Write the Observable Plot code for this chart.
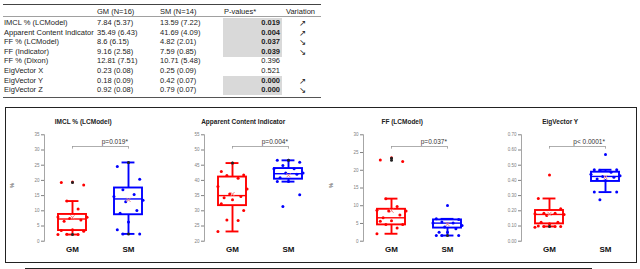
<!DOCTYPE html>
<html><head><meta charset="utf-8">
<script src="https://cdn.jsdelivr.net/npm/d3@7"></script>
<script src="https://cdn.jsdelivr.net/npm/@observablehq/plot@0.6"></script>
<style>
body{margin:0;background:#fff;}
#root{position:relative;width:640px;height:269px;overflow:hidden;font-family:"Liberation Sans",Arial,sans-serif;color:#222;}
.c{position:absolute;white-space:nowrap;font-size:7.5px;line-height:10px;}
</style></head><body><div id="root"></div>
<script>
// ---- table data ----
const tableHeader = ["", "GM (N=16)", "SM (N=14)", "P-values*", "Variation"];
const rowLabels = ["IMCL % (LCModel)", "Apparent Content Indicator", "FF % (LCModel)", "FF (Indicator)", "FF % (Dixon)", "EigVector X", "EigVector Y", "EigVector Z"];
const gmCol = ["7.84 (5.37)", "35.49 (6.43)", "8.6 (6.15)", "9.16 (2.58)", "12.81 (7.51)", "0.23 (0.08)", "0.18 (0.09)", "0.92 (0.08)"];
const smCol = ["13.59 (7.22)", "41.69 (4.09)", "4.82 (2.01)", "7.59 (0.85)", "10.71 (5.48)", "0.25 (0.09)", "0.42 (0.07)", "0.79 (0.07)"];
const pCol = ["0.019", "0.004", "0.037", "0.039", "0.396", "0.521", "0.000", "0.000"];
const significant = [true, true, true, true, false, false, true, true];
const variation = ["↗", "↗", "↘", "↘", "", "", "↗", "↘"];

// ---- box plot data ----
const groups = ["GM", "SM"];
const titles = ["IMCL % (LCModel)", "Apparent Content Indicator", "FF (LCModel)", "EigVector Y"];
const pLabels = ["p=0.019*", "p=0.004*", "p=0.037*", "p< 0.0001*"];
const yDomains = [[0, 35], [20, 55], [0, 30], [0, 0.7]];
const yUnits = ["%", "", "%", ""];

const imclGM = [19.5, 19.3, 18.5, 13.2, 10.6, 8.0, 7.9, 7.5, 7.0, 6.6, 3.8, 3.5, 3.3, 2.3, 2.2, 2.2];
const imclSM = [25.9, 24.6, 20.4, 16.9, 15.4, 14.7, 13.5, 13.0, 10.1, 9.2, 6.3, 3.8, 2.4, 2.4];
const aciGM = [45.7, 42.9, 41.8, 41.6, 40.7, 38.0, 37.2, 35.5, 34.7, 34.3, 33.6, 32.3, 30.1, 27.0, 26.8, 23.2];
const aciSM = [46.6, 46.6, 46.0, 44.9, 43.8, 43.8, 42.4, 42.4, 42.0, 40.9, 39.6, 39.6, 35.3, 31.4];
const ffGM = [23.5, 22.9, 22.5, 12.0, 9.8, 8.7, 8.5, 8.5, 7.4, 6.6, 5.8, 5.6, 4.7, 4.7, 3.7, 2.1];
const ffSM = [10.1, 6.3, 6.1, 5.4, 5.1, 5.1, 4.4, 4.0, 3.5, 2.5, 2.5, 1.6, 1.6, 1.6];
const eigGM = [0.435, 0.281, 0.213, 0.184, 0.184, 0.180, 0.176, 0.169, 0.125, 0.125, 0.114, 0.100, 0.097, 0.097, 0.097, 0.092];
const eigSM = [0.571, 0.470, 0.470, 0.466, 0.454, 0.440, 0.430, 0.426, 0.420, 0.410, 0.400, 0.323, 0.323, 0.272];

// box stats: [low whisker, Q1, median, Q3, high whisker]
const imclBoxGM = [2.2, 3.5, 7.3, 8.8, 13.2], imclBoxSM = [2.4, 8.7, 13.9, 17.5, 25.9];
const aciBoxGM = [23.2, 31.7, 35.0, 41.1, 45.7], aciBoxSM = [39.6, 40.4, 42.2, 43.9, 46.6];
const ffBoxGM = [2.1, 4.6, 6.6, 9.0, 12.0], ffBoxSM = [1.6, 3.7, 5.1, 6.0, 6.3];
const eigBoxGM = [0.097, 0.114, 0.176, 0.202, 0.281], eigBoxSM = [0.323, 0.393, 0.426, 0.454, 0.470];
const meansGM = [7.84, 35.49, 8.6, 0.18];
const meansSM = [13.59, 41.69, 4.82, 0.42];
// darker (extreme) markers
const blackGM = [[19.3, 2.2], [45.7], [23.4, 22.8], [0.097]];
const blackSM = [[25.9, 2.4], [46.6], [1.6], []];

const colors = ["#ff0000", "#0000ff"];
const root = document.getElementById("root");

// ---- table (HTML) ----
function cell(text, x, y, opts = {}) {
  const d = document.createElement("div");
  d.className = "c";
  d.textContent = text;
  d.style.top = (y - 5) + "px";
  if (opts.right) { d.style.right = (640 - x) + "px"; } else d.style.left = x + "px";
  if (opts.bold) d.style.fontWeight = "bold";
  if (opts.font) d.style.fontFamily = opts.font;
  if (opts.size) d.style.fontSize = opts.size + "px";
  root.appendChild(d);
}
function hline(x1, x2, y, w, col) {
  const d = document.createElement("div");
  d.style.cssText = `position:absolute;left:${x1}px;width:${x2 - x1}px;top:${y}px;height:${w}px;background:${col};`;
  root.appendChild(d);
}
const rowY = rowLabels.map((_, i) => 23 + i * 9.6);
rowLabels.forEach((r, i) => {
  if (significant[i]) {
    const s = document.createElement("div");
    s.style.cssText = `position:absolute;left:223px;width:59px;top:${rowY[i] - 4.8}px;height:9.6px;background:#d9d9d9;`;
    root.appendChild(s);
  }
});
hline(3, 321, 4.2, 1, "#444");
hline(3, 321, 16.3, 1, "#a0a0a0");
hline(3, 321, 97, 1, "#555");
const hy = 11.5;
cell(tableHeader[1], 97, hy);
cell(tableHeader[2], 160, hy);
cell(tableHeader[3], 224, hy);
cell(tableHeader[4], 286, hy);
rowLabels.forEach((r, i) => {
  cell(r, 4, rowY[i]);
  cell(gmCol[i], 97, rowY[i]);
  cell(smCol[i], 160, rowY[i]);
  cell(pCol[i], 280, rowY[i], {right: true, bold: significant[i]});
  if (variation[i]) cell(variation[i], 299, rowY[i], {font: "DejaVu Sans", size: 8.5});
});

// ---- frame ----
const fr = document.createElement("div");
fr.style.cssText = "position:absolute;left:5px;top:106.5px;width:630px;height:154px;border:1.2px solid #222;";
root.appendChild(fr);
hline(25, 592, 267.5, 1, "#222");

// ---- panels ----
const panelData = [
  {gm: imclGM, sm: imclSM, bg: imclBoxGM, bs: imclBoxSM},
  {gm: aciGM, sm: aciSM, bg: aciBoxGM, bs: aciBoxSM},
  {gm: ffGM, sm: ffSM, bg: ffBoxGM, bs: ffBoxSM},
  {gm: eigGM, sm: eigSM, bg: eigBoxGM, bs: eigBoxSM}
];
const jit = [0, -0.2, 0.2, -0.1, 0.1, -0.26, 0.26, -0.05, 0.15, -0.15];
const panelLeft = [4, 164.3, 322.7, 480.7];

panelData.forEach((d, k) => {
  const [y0, y1] = yDomains[k];
  const span = y1 - y0;
  const pts = [];
  d.gm.forEach((v, i) => pts.push({g: 1, x: 1 + jit[i % jit.length], v}));
  d.sm.forEach((v, i) => pts.push({g: 2, x: 2 + jit[i % jit.length], v}));
  const mk = (g, b, m) => ({g, lo: b[0], q1: b[1], med: b[2], q3: b[3], hi: b[4], mean: m, c: colors[g - 1]});
  const stats = [mk(1, d.bg, meansGM[k]), mk(2, d.bs, meansSM[k])];
  const blacks = blackGM[k].map(v => ({g: 1, v})).concat(blackSM[k].map(v => ({g: 2, v})));
  const yb = y0 + 0.89 * span;
  const marks = [
    Plot.frame({anchor: "left", stroke: "#a6a6a6"}),
    Plot.axisY({ticks: d3.ticks(y0, y1, 7), tickSize: 3, tickPadding: 2, fontSize: 4.5, color: "#808080", label: null}),
    Plot.axisX({ticks: [1, 2], tickFormat: i => groups[i - 1], tickSize: 0, tickPadding: 5, fontSize: 8, fontWeight: "bold", label: null, color: "#111"}),
    Plot.ruleY([yb], {x1: 1, x2: 2, stroke: "#999", strokeWidth: 0.8}),
    Plot.ruleX([1, 2], {x: d => d, y1: yb, y2: yb - 0.025 * span, stroke: "#999", strokeWidth: 0.8}),
    Plot.text([pLabels[k]], {x: 1.99, y: yb, dy: -4.5, textAnchor: "end", fontSize: 6.5, fill: "#333"}),
    Plot.text([titles[k]], {frameAnchor: "top", dy: -15.3, fontSize: 6.5, fontWeight: "bold", fill: "#222"}),
    Plot.ruleX(stats, {x: "g", y1: "q3", y2: "hi", stroke: "c", strokeWidth: 1.9}),
    Plot.ruleX(stats, {x: "g", y1: "lo", y2: "q1", stroke: "c", strokeWidth: 1.9}),
    Plot.ruleY(stats, {y: "hi", x1: s => s.g - 0.115, x2: s => s.g + 0.115, stroke: "c", strokeWidth: 1.9}),
    Plot.ruleY(stats, {y: "lo", x1: s => s.g - 0.115, x2: s => s.g + 0.115, stroke: "c", strokeWidth: 1.9}),
    Plot.rect(stats, {x1: s => s.g - 0.25, x2: s => s.g + 0.25, y1: "q1", y2: "q3", fill: "none", stroke: "c", strokeWidth: 1.9}),
    Plot.ruleY(stats, {y: "med", x1: s => s.g - 0.25, x2: s => s.g + 0.25, stroke: "c", strokeWidth: 1.4}),
    Plot.dot(pts, {x: "x", y: "v", r: 1.5, fill: p => colors[p.g - 1], stroke: null}),
    Plot.dot(stats, {x: "g", y: "mean", symbol: "times", r: 2, stroke: "#f08080", strokeWidth: 1}),
    Plot.dot(blacks, {x: "g", y: "v", r: 1.5, fill: "#222", stroke: null})
  ];
  if (yUnits[k]) marks.push(Plot.text([yUnits[k]], {frameAnchor: "left", dx: -32, rotate: -90, fontSize: 5.5, fill: "#444"}));
  const svg = Plot.plot({
    width: 150, height: 150,
    marginLeft: 40, marginRight: 32.6, marginTop: 26.3, marginBottom: 17.3,
    style: {fontFamily: "Liberation Sans, Arial, sans-serif", background: "transparent", overflow: "visible"},
    x: {domain: [1, 2], range: [68, 124]},
    y: {domain: [y0, y1]},
    color: {type: "identity"},
    marks
  });
  svg.style.position = "absolute";
  svg.style.left = panelLeft[k] + "px";
  svg.style.top = "108px";
  root.appendChild(svg);
});
</script>
</body></html>
